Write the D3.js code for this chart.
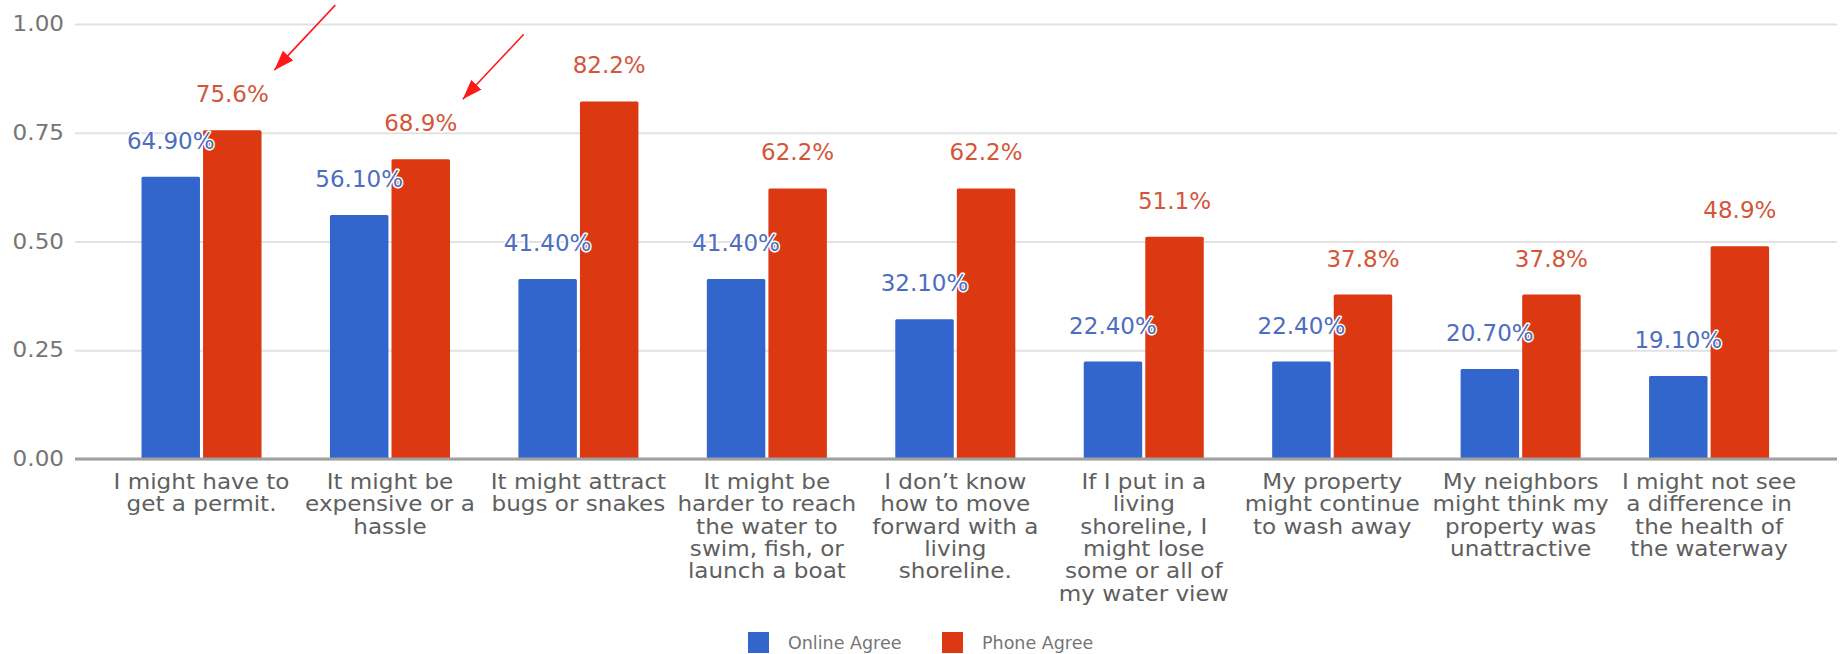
<!DOCTYPE html>
<html>
<head>
<meta charset="utf-8">
<script src="https://cdn.jsdelivr.net/npm/d3@7"></script>
<style>
  html, body { margin: 0; padding: 0; background: #ffffff; }
  svg { display: block; font-family: "DejaVu Sans", Verdana, sans-serif; }
</style>
</head>
<body>
<script>
// ---------------- DATA ----------------
const categories = [
  ["I might have to", "get a permit."],
  ["It might be", "expensive or a", "hassle"],
  ["It might attract", "bugs or snakes"],
  ["It might be", "harder to reach", "the water to", "swim, fish, or", "launch a boat"],
  ["I don\u2019t know", "how to move", "forward with a", "living", "shoreline."],
  ["If I put in a", "living", "shoreline, I", "might lose", "some or all of", "my water view"],
  ["My property", "might continue", "to wash away"],
  ["My neighbors", "might think my", "property was", "unattractive"],
  ["I might not see", "a difference in", "the health of", "the waterway"]
];
const seriesNames = ["Online Agree", "Phone Agree"];
const onlineAgree = [0.649, 0.561, 0.414, 0.414, 0.321, 0.224, 0.224, 0.207, 0.191];
const phoneAgree  = [0.756, 0.689, 0.822, 0.622, 0.622, 0.511, 0.378, 0.378, 0.489];
const onlineLabels = ["64.90%", "56.10%", "41.40%", "41.40%", "32.10%", "22.40%", "22.40%", "20.70%", "19.10%"];
const phoneLabels  = ["75.6%", "68.9%", "82.2%", "62.2%", "62.2%", "51.1%", "37.8%", "37.8%", "48.9%"];
const yTickValues = [0, 0.25, 0.5, 0.75, 1];
const yTickLabels = ["0.00", "0.25", "0.50", "0.75", "1.00"];
const arrowedPhoneBars = [0, 1]; // red arrows pointing at these phone labels

// ---------------- STYLE / LAYOUT ----------------
const W = 1841, H = 654;
const colors = { "Online Agree": "#3366cc", "Phone Agree": "#dc3912" };
const labelColors = { "Online Agree": "#4d6dc0", "Phone Agree": "#d4563a" };
const area = { left: 75, right: 1837, top: 24, bottom: 459 };
const stretch = 1.1;

const svg = d3.select("body").append("svg").attr("width", W).attr("height", H);

const defs = svg.append("defs");
defs.append("marker")
  .attr("id", "arrowhead")
  .attr("viewBox", "0 0 20 14")
  .attr("refX", 20).attr("refY", 7)
  .attr("markerWidth", 20).attr("markerHeight", 14)
  .attr("markerUnits", "userSpaceOnUse")
  .attr("orient", "auto")
  .append("path").attr("d", "M0,0 L20,7 L0,14 Z").attr("fill", "#ff1a1a");

const idx = d3.range(categories.length);
const y = d3.scaleLinear().domain([0, 1]).range([area.bottom, area.top]);
const x0 = d3.scaleBand().domain(idx).range([107.3, 1803.3]).paddingInner(0.363).paddingOuter(0.1815);
const x1 = d3.scaleBand().domain(seriesNames).range([0, x0.bandwidth()]).paddingInner(0.05);

// y axis with gridlines
const yAxis = d3.axisLeft(y)
  .tickValues(yTickValues)
  .tickFormat((d, i) => yTickLabels[i])
  .tickSize(-(area.right - area.left))
  .tickPadding(10);
const gy = svg.append("g").attr("transform", `translate(${area.left},0)`).call(yAxis);
gy.select(".domain").remove();
gy.selectAll(".tick line").attr("stroke", "#e2e2e2").attr("stroke-width", 2);
gy.selectAll(".tick text")
  .attr("font-size", 21)
  .attr("fill", "#757575")
  .attr("font-family", "DejaVu Sans, sans-serif")
  .attr("transform", `scale(${stretch},1)`);

// bars
const values = { "Online Agree": onlineAgree, "Phone Agree": phoneAgree };
const labels = { "Online Agree": onlineLabels, "Phone Agree": phoneLabels };
const barData = [];
idx.forEach(i => seriesNames.forEach(s => barData.push({ i, s, v: values[s][i], label: labels[s][i] })));

svg.append("g").selectAll("rect").data(barData).join("rect")
  .attr("x", d => x0(d.i) + x1(d.s))
  .attr("y", d => y(d.v))
  .attr("width", x1.bandwidth())
  .attr("height", d => y(0) - y(d.v))
  .attr("rx", 1.5)
  .attr("fill", d => colors[d.s]);

// x axis baseline + category labels
const xAxis = d3.axisBottom(x0).tickSize(0).tickFormat("");
const gx = svg.append("g").attr("transform", `translate(0,${y(0)})`).call(xAxis);
gx.select(".domain").attr("stroke", "#a0a0a0").attr("stroke-width", 3)
  .attr("d", `M${area.left - x0.range()[0] + x0.range()[0]},0H${area.right}`);
gx.selectAll(".tick").each(function (d) {
  const t = d3.select(this);
  categories[d].forEach((line, j) => {
    t.append("text")
      .attr("transform", `translate(0,${29.7 + j * 22.4}) scale(${stretch},1)`)
      .attr("text-anchor", "middle")
      .attr("font-size", 21)
      .attr("fill", "#5f5f5f")
      .attr("font-family", "DejaVu Sans, sans-serif")
      .text(line);
  });
});

// value annotations
svg.append("g").selectAll("text").data(barData).join("text")
  .attr("x", d => x0(d.i) + x1(d.s) + x1.bandwidth() / 2)
  .attr("y", d => y(d.v) - 28)
  .attr("text-anchor", "middle")
  .attr("font-size", 23)
  .attr("fill", d => labelColors[d.s])
  .attr("stroke", "#ffffff")
  .attr("stroke-width", 3)
  .attr("paint-order", "stroke")
  .attr("stroke-linejoin", "round")
  .text(d => d.label);

// red arrows pointing at selected phone labels
svg.append("g").selectAll("line").data(arrowedPhoneBars).join("line")
  .attr("x1", i => x0(i) + x1("Phone Agree") + x1.bandwidth() / 2 + 42 + 61)
  .attr("y1", i => y(phoneAgree[i]) - 60 - 65)
  .attr("x2", i => x0(i) + x1("Phone Agree") + x1.bandwidth() / 2 + 42)
  .attr("y2", i => y(phoneAgree[i]) - 60)
  .attr("stroke", "#ff1a1a")
  .attr("stroke-width", 1.6)
  .attr("marker-end", "url(#arrowhead)");

// legend
const legend = svg.append("g");
const legendX = [748, 942];
seriesNames.forEach((s, k) => {
  legend.append("rect")
    .attr("x", legendX[k]).attr("y", 632)
    .attr("width", 21).attr("height", 21)
    .attr("fill", colors[s]);
  legend.append("text")
    .attr("transform", `translate(${legendX[k] + 40},649) scale(1.03,1)`)
    .attr("font-size", 17)
    .attr("fill", "#757575")
    .attr("font-family", "DejaVu Sans, sans-serif")
    .text(s);
});
</script>
</body>
</html>
